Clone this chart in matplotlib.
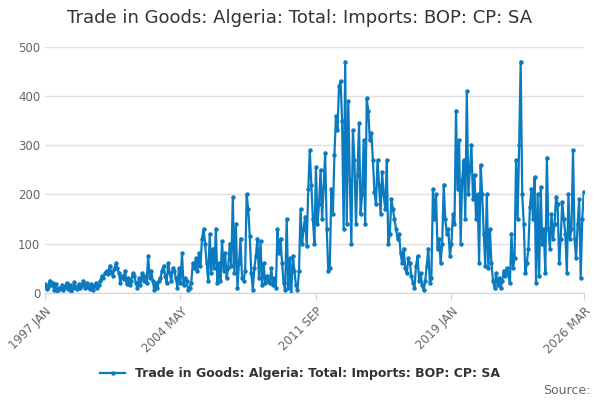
import matplotlib
matplotlib.use("Agg")
import matplotlib.pyplot as plt
import numpy as np

y1997 = [18, 8, 12, 25, 15, 20, 5, 18, 3, 10, 8, 15]
y1998 = [5, 12, 20, 8, 15, 3, 10, 22, 12, 8, 18, 10]
y1999 = [15, 25, 10, 20, 12, 8, 18, 6, 14, 20, 10, 15]
y2000 = [25, 35, 30, 40, 45, 38, 55, 42, 35, 48, 60, 50]
y2001 = [40, 20, 35, 28, 45, 18, 30, 15, 25, 40, 35, 20]
y2002 = [10, 30, 15, 40, 25, 35, 20, 75, 30, 45, 25, 5]
y2003 = [20, 10, 25, 30, 45, 55, 35, 20, 60, 40, 25, 50]
y2004 = [45, 30, 10, 50, 20, 80, 15, 30, 25, 5, 10, 20]
y2005 = [60, 50, 70, 45, 80, 55, 110, 130, 100, 60, 25, 120]
y2006 = [40, 90, 50, 130, 20, 60, 25, 105, 45, 80, 30, 50]
y2007 = [100, 55, 195, 40, 140, 10, 60, 110, 30, 25, 45, 200]
y2008 = [170, 115, 40, 5, 50, 75, 110, 30, 105, 15, 60, 20]
y2009 = [35, 25, 20, 50, 15, 30, 10, 130, 80, 110, 60, 20]
y2010 = [5, 150, 10, 70, 0, 75, 45, 15, 5, 45, 170, 100]
y2011 = [130, 155, 95, 210, 290, 220, 150, 100, 255, 140, 180, 250]
y2012 = [150, 215, 285, 130, 45, 50, 210, 160, 280, 360, 330, 420]
y2013 = [430, 350, 130, 470, 140, 390, 230, 100, 330, 270, 140, 240]
y2014 = [345, 160, 200, 310, 140, 395, 370, 310, 325, 270, 205, 180]
y2015 = [270, 220, 160, 245, 200, 170, 270, 100, 120, 190, 170, 150]
y2016 = [130, 110, 120, 80, 60, 90, 50, 40, 70, 60, 35, 20]
y2017 = [10, 55, 75, 25, 40, 15, 5, 25, 55, 90, 20, 30]
y2018 = [210, 150, 200, 90, 110, 60, 100, 220, 150, 120, 130, 75]
y2019 = [100, 160, 140, 370, 210, 310, 100, 230, 270, 150, 410, 200]
y2020 = [250, 300, 190, 240, 150, 200, 60, 260, 200, 120, 55, 200]
y2021 = [50, 130, 60, 25, 10, 40, 15, 30, 10, 25, 45, 35]
y2022 = [50, 40, 20, 120, 50, 70, 270, 150, 300, 470, 200, 140]
y2023 = [40, 60, 90, 175, 210, 150, 235, 20, 200, 35, 215, 100]
y2024 = [130, 40, 275, 130, 90, 160, 110, 140, 195, 180, 60, 110]
y2025 = [185, 150, 120, 40, 200, 110, 130, 290, 110, 70, 140, 190]
y2026 = [30, 150, 205]

values = (y1997 + y1998 + y1999 + y2000 + y2001 + y2002 + y2003 + y2004 + y2005
          + y2006 + y2007 + y2008 + y2009 + y2010 + y2011 + y2012 + y2013 + y2014
          + y2015 + y2016 + y2017 + y2018 + y2019 + y2020 + y2021 + y2022 + y2023
          + y2024 + y2025 + y2026)
tick_labels = ["1997 JAN", "2004 MAY", "2011 SEP", "2019 JAN", "2026 MAR"]
tick_pos = [0, 88, 176, 264, 350]

x = np.arange(len(values))
fig = plt.figure(figsize=(6, 4), dpi=100)
ax = fig.add_axes([0.075, 0.268, 0.898, 0.615])
color = "#0a7bc0"
ax.plot(x, values, color=color, lw=1.6, marker="o", ms=2.2,
        label="Trade in Goods: Algeria: Total: Imports: BOP: CP: SA")
ax.set_xlim(0, len(values) - 1)
ax.set_ylim(0, 500)
ax.set_yticks([0, 100, 200, 300, 400, 500])
ax.set_xticks(tick_pos)
ax.set_xticklabels(tick_labels, rotation=45, ha="right", rotation_mode="anchor")
ax.tick_params(axis="both", labelsize=8.5, colors="#666666", length=0)
ax.tick_params(axis="x", length=5, color="#ccd6eb")
ax.grid(axis="y", color="#e0e0e0", lw=1)
for s in ["top", "right", "left"]:
    ax.spines[s].set_visible(False)
ax.spines["bottom"].set_color("#ccd6eb")
ax.set_axisbelow(True)
fig.text(0.5, 0.955, "Trade in Goods: Algeria: Total: Imports: BOP: CP: SA",
         ha="center", va="center", fontsize=13, color="#333333")
leg = fig.legend(loc="center", bbox_to_anchor=(0.5, 0.065), frameon=False,
                 fontsize=9)
for t in leg.get_texts():
    t.set_fontweight("bold"); t.set_color("#333333")
fig.text(0.985, 0.025, "Source:", ha="right", va="center", fontsize=9, color="#666666")
fig.savefig("out.png")
